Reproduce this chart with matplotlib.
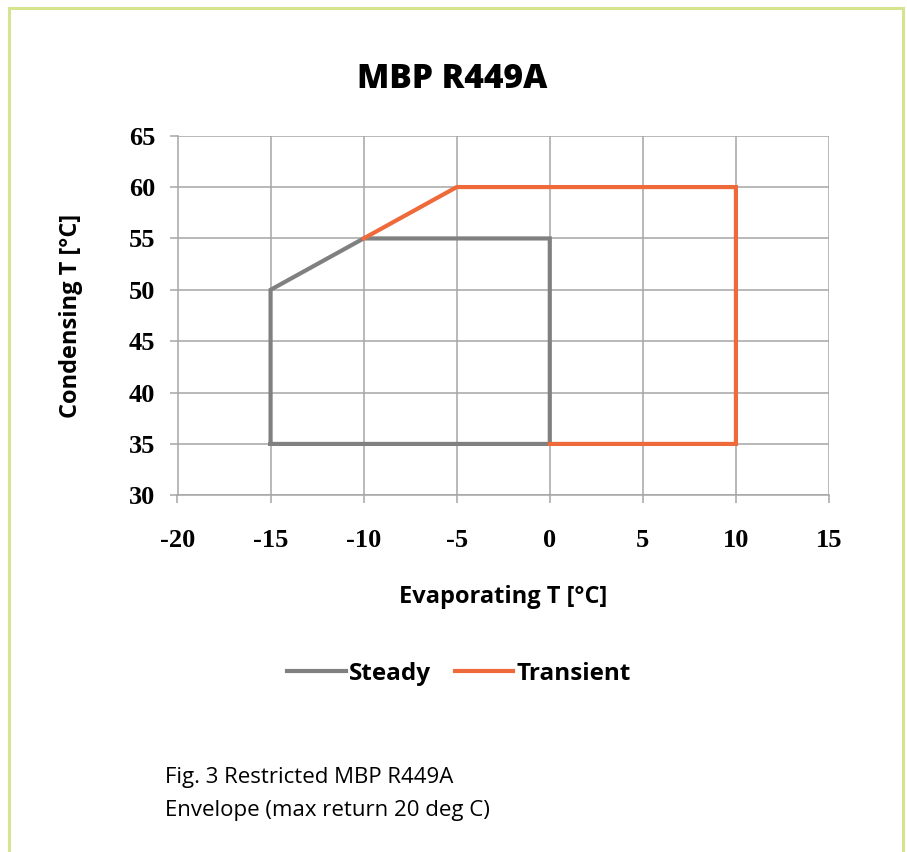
import matplotlib
matplotlib.use("Agg")
import matplotlib.pyplot as plt
from matplotlib.lines import Line2D

plt.rcParams["axes.unicode_minus"] = False

steady_x = [-15, -15, -10, 0, 0, -15]
steady_y = [35, 50, 55, 55, 35, 35]
transient_x = [-10, -5, 10, 10, 0]
transient_y = [55, 60, 60, 35, 35]
x_ticks = [-20, -15, -10, -5, 0, 5, 10, 15]
y_ticks = [30, 35, 40, 45, 50, 55, 60, 65]

title = "MBP R449A"
xlabel = "Evaporating T [°C]"
ylabel = "Condensing T [°C]"
caption = "Fig. 3 Restricted MBP R449A\nEnvelope (max return 20 deg C)"

W, H = 907, 852
fig = plt.figure(figsize=(W / 100, H / 100), dpi=100)
fig.patch.set_facecolor("white")

# border
border_col = "#d6e48f"
fig.add_artist(Line2D([9 / W, 9 / W], [0, 1 - 8 / H], transform=fig.transFigure, color=border_col, lw=2.2))
fig.add_artist(Line2D([9 / W, 903 / W], [1 - 8 / H, 1 - 8 / H], transform=fig.transFigure, color=border_col, lw=2.2))
fig.add_artist(Line2D([903 / W, 903 / W], [0, 1 - 8 / H], transform=fig.transFigure, color=border_col, lw=2.2))

left, right = 177.5 / W, 829 / W
bottom, top = 1 - 495.3 / H, 1 - 135.7 / H
ax = fig.add_axes([left, bottom, right - left, top - bottom])

grid_col = "#a6a6a6"
ax.plot(steady_x, steady_y, color="#808080", lw=3.0, solid_joinstyle="miter", zorder=3)
ax.plot(transient_x, transient_y, color="#ee6a3a", lw=3.0, solid_joinstyle="miter", zorder=3)

ax.set_xlim(-20, 15)
ax.set_ylim(30, 65)
ax.set_xticks(x_ticks)
ax.set_yticks(y_ticks)
ax.grid(True, color=grid_col, lw=1.1)
for s in ["top", "right"]:
    ax.spines[s].set_visible(False)
for s in ["left", "bottom"]:
    ax.spines[s].set_color(grid_col)
    ax.spines[s].set_linewidth(1.1)
ax.tick_params(axis="both", colors=grid_col, length=6, width=1.1, labelcolor="black")
ax.tick_params(axis="x", pad=18)
ax.tick_params(axis="y", pad=10)
for lab in ax.get_xticklabels() + ax.get_yticklabels():
    lab.set_fontfamily("Liberation Serif")
    lab.set_fontweight("bold")
    lab.set_fontsize(19)

ax.set_xlabel(xlabel, fontsize=17, fontweight="bold", family="Open Sans", labelpad=24)
ax.set_ylabel(ylabel, fontsize=17, fontweight="bold", family="Open Sans", labelpad=33)

fig.text(452 / W, 1 - 79 / H, title, ha="center", va="center", fontsize=24,
         fontweight="heavy", family="Open Sans")

handles = [Line2D([], [], color="#808080", lw=3.0), Line2D([], [], color="#ee6a3a", lw=3.0)]
fig.legend(handles, ["Steady", "Transient"], loc="center", bbox_to_anchor=(459 / W, 1 - 674 / H),
           ncol=2, frameon=False, prop={"family": "Open Sans", "weight": "bold", "size": 17.5},
           handlelength=2.4, handletextpad=0.12, columnspacing=1.0)

fig.text(165 / W, 1 - 794 / H, caption, ha="left", va="center", fontsize=16,
         family="Open Sans", linespacing=1.7)

fig.savefig("out.png", dpi=100, facecolor="white")
